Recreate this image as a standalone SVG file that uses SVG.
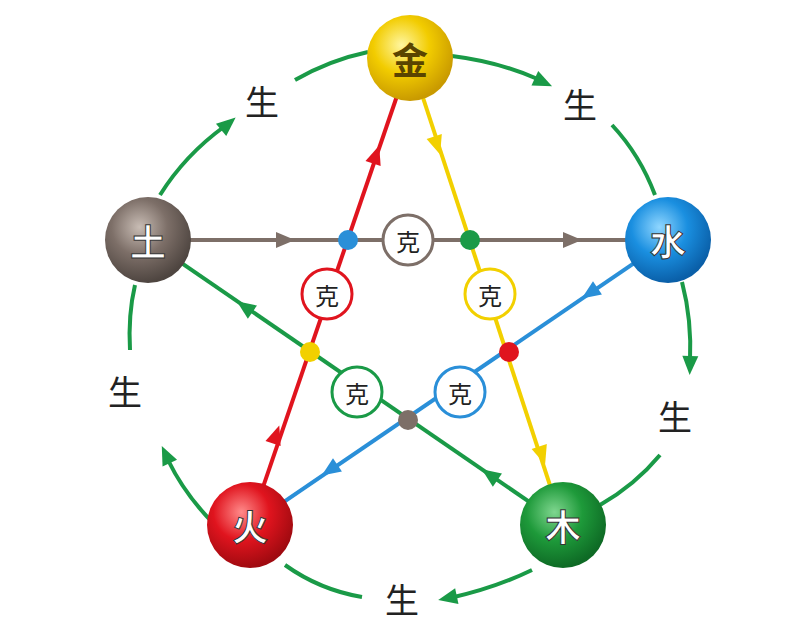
<svg xmlns="http://www.w3.org/2000/svg" width="797" height="625" viewBox="0 0 797 625">
<style>
.arc{fill:none;stroke:#1a9a47;stroke-width:4}
.ln{stroke-width:4}
.sheng{font-family:"Noto Sans CJK SC",sans-serif;font-size:34px;fill:#222;text-anchor:middle;dominant-baseline:central}
.ke{font-family:"Noto Sans CJK SC",sans-serif;font-size:24px;fill:#222;text-anchor:middle;dominant-baseline:central}
.nt{font-family:"Noto Sans CJK SC",sans-serif;font-size:36px;font-weight:bold;text-anchor:middle;dominant-baseline:central;fill:#fff;stroke:#333;stroke-width:1}
.kc{fill:#fff;stroke-width:3}
</style>
<defs>
<path id="ah" d="M10,0 L-9,-8 L-9,8Z"/>
<radialGradient id="gJ" cx="40%" cy="35%" r="65%"><stop offset="0" stop-color="#fff6a0"/><stop offset="0.5" stop-color="#f2cc00"/><stop offset="1" stop-color="#c99a00"/></radialGradient>
<radialGradient id="gS" cx="40%" cy="35%" r="65%"><stop offset="0" stop-color="#8fd6ff"/><stop offset="0.5" stop-color="#1a8fe0"/><stop offset="1" stop-color="#0a5fa8"/></radialGradient>
<radialGradient id="gM" cx="40%" cy="35%" r="65%"><stop offset="0" stop-color="#7fd68f"/><stop offset="0.5" stop-color="#1e9a3a"/><stop offset="1" stop-color="#0e6a25"/></radialGradient>
<radialGradient id="gH" cx="40%" cy="35%" r="65%"><stop offset="0" stop-color="#ff8a8a"/><stop offset="0.5" stop-color="#e0141e"/><stop offset="1" stop-color="#a00a10"/></radialGradient>
<radialGradient id="gT" cx="40%" cy="35%" r="65%"><stop offset="0" stop-color="#c8bcb4"/><stop offset="0.5" stop-color="#7d6f68"/><stop offset="1" stop-color="#4e4540"/></radialGradient>
</defs>
<rect width="797" height="625" fill="#fff"/>
<g id="connectors">
<path class="arc" d="M160,195 Q185,155 225,126"/>
<path class="arc" d="M295,80 Q330,60 368,52"/>
<path class="arc" d="M452,56 Q500,62 540,80"/>
<path class="arc" d="M612,125 Q640,155 655,195"/>
<path class="arc" d="M682,282 Q692,320 690,362"/>
<path class="arc" d="M660,455 Q635,485 600,505"/>
<path class="arc" d="M532,570 Q495,588 450,598"/>
<path class="arc" d="M362,597 Q320,590 285,565"/>
<path class="arc" d="M215,525 Q185,495 168,460"/>
<path class="arc" d="M130,350 Q128,315 135,285"/>
<g fill="#1a9a47">
<use href="#ah" transform="translate(228,124) rotate(-40)"/>
<use href="#ah" transform="translate(543,82) rotate(25)"/>
<use href="#ah" transform="translate(690,365) rotate(92)"/>
<use href="#ah" transform="translate(448,598) rotate(168)"/>
<use href="#ah" transform="translate(166,455) rotate(-115)"/>
</g>
<line class="ln" x1="250" y1="525" x2="410" y2="58" stroke="#e0141e"/>
<line class="ln" x1="410" y1="58" x2="563" y2="525" stroke="#f2d000"/>
<line class="ln" x1="148" y1="240" x2="668" y2="240" stroke="#7d6f68"/>
<line class="ln" x1="668" y1="240" x2="250" y2="525" stroke="#2a8fd8"/>
<line class="ln" x1="563" y1="525" x2="148" y2="240" stroke="#1a9a47"/>
<use href="#ah" fill="#e0141e" transform="translate(276,435) rotate(-71)"/>
<use href="#ah" fill="#e0141e" transform="translate(376,155) rotate(-71)"/>
<use href="#ah" fill="#f2d000" transform="translate(437,145) rotate(72)"/>
<use href="#ah" fill="#f2d000" transform="translate(542,455) rotate(72)"/>
<use href="#ah" fill="#7d6f68" transform="translate(285,240)"/>
<use href="#ah" fill="#7d6f68" transform="translate(572,240)"/>
<use href="#ah" fill="#2a8fd8" transform="translate(590,293) rotate(146)"/>
<use href="#ah" fill="#2a8fd8" transform="translate(330,470) rotate(146)"/>
<use href="#ah" fill="#1a9a47" transform="translate(490,475) rotate(-145.5)"/>
<use href="#ah" fill="#1a9a47" transform="translate(245,307) rotate(-145.5)"/>
<circle cx="348" cy="240" r="10" fill="#2a8fd8"/>
<circle cx="470" cy="240" r="10" fill="#1a9a47"/>
<circle cx="310" cy="352" r="10" fill="#f2d000"/>
<circle cx="509" cy="352" r="10" fill="#e0141e"/>
<circle cx="408" cy="420" r="10" fill="#7d6f68"/>
</g>
<g id="ke1"><circle class="kc" cx="408" cy="240" r="25" stroke="#7d6f68"/><text class="ke" x="408" y="240">克</text></g>
<g id="ke2"><circle class="kc" cx="327" cy="294" r="25" stroke="#e0141e"/><text class="ke" x="327" y="294">克</text></g>
<g id="ke3"><circle class="kc" cx="490" cy="294" r="25" stroke="#f2d000"/><text class="ke" x="490" y="294">克</text></g>
<g id="ke4"><circle class="kc" cx="357" cy="392" r="25" stroke="#1a9a47"/><text class="ke" x="357" y="392">克</text></g>
<g id="ke5"><circle class="kc" cx="460" cy="392" r="25" stroke="#2a8fd8"/><text class="ke" x="460" y="392">克</text></g>
<g id="labels">
<text class="sheng" x="262" y="100">生</text>
<text class="sheng" x="580" y="103">生</text>
<text class="sheng" x="125" y="390">生</text>
<text class="sheng" x="675" y="415">生</text>
<text class="sheng" x="402" y="598">生</text>
</g>
<g id="jin"><circle cx="410" cy="58" r="43" fill="url(#gJ)"/><text class="nt" x="410" y="58" style="fill:#5a4400;stroke:none">金</text></g>
<g id="shui"><circle cx="668" cy="240" r="43" fill="url(#gS)"/><text class="nt" x="668" y="240">水</text></g>
<g id="mu"><circle cx="563" cy="525" r="43" fill="url(#gM)"/><text class="nt" x="563" y="525">木</text></g>
<g id="huo"><circle cx="250" cy="525" r="43" fill="url(#gH)"/><text class="nt" x="250" y="525">火</text></g>
<g id="tu"><circle cx="148" cy="240" r="43" fill="url(#gT)"/><text class="nt" x="148" y="240">土</text></g>
</svg>
